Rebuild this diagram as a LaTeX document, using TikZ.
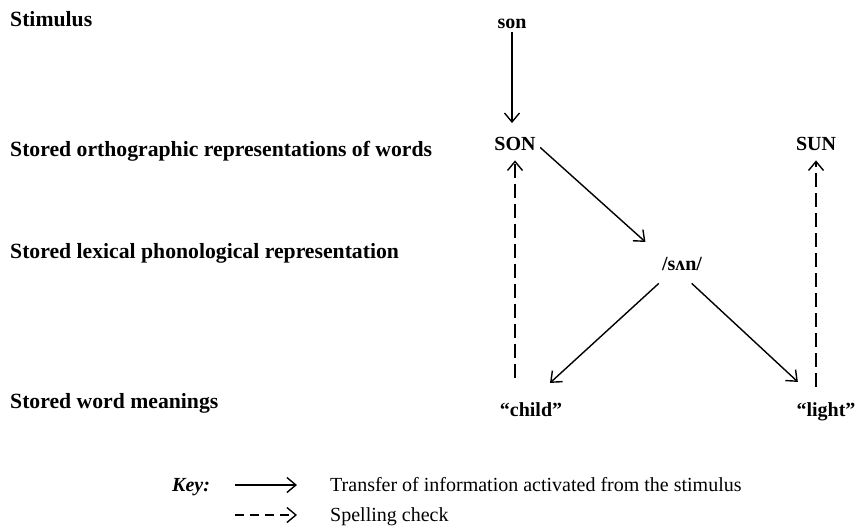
\documentclass[tikz,border=0pt]{standalone}
\usepackage{fontspec}
\setmainfont{Liberation Serif}
\usetikzlibrary{arrows.meta}

\begin{document}
\begin{tikzpicture}
    [x=1pt, y=1pt,
     every node/.style={inner sep=0pt, font=\fontsize{20}{24}\selectfont\bfseries},
     row/.style={anchor=base west, font=\fontsize{21.7}{26}\selectfont\bfseries},
     word/.style={anchor=base},
     keytext/.style={anchor=base west, font=\fontsize{20}{24}\selectfont},
     flow/.style={line width=1.4pt, -{Straight Barb[length=9pt,width=15pt]}},
     check/.style={flow, dash pattern=on 14pt off 6pt}]
        \useasboundingbox (0,0) rectangle (858,-531);
        % levels
        \node (a) [row] at (10, -26) {Stimulus};
        \node (b) [row] at (10, -156) {Stored orthographic representations of words};
        \node (c) [row] at (10, -258) {Stored lexical phonological representation};
        \node (d) [row] at (10, -408) {Stored word meanings};
        % words
        \node (1) [word] at (512, -28) {son};
        \node (2) [word] at (515, -150) {SON};
        \node (3) [word] at (816, -150) {SUN};
        \node (4) [word] at (682, -270) {/sʌn/};
        \node (5) [word] at (531, -416) {“child”};
        \node (6) [word] at (826, -416) {“light”};
        \draw [flow, shorten <=4pt, shorten >=13.5pt] (1.south) -- (1.south |- 2.north);
        \draw [flow, shorten <=6pt, shorten >=22pt] (2.east) -- (4.north west);
        \draw [flow] ([xshift=-3pt, yshift=-13pt]4.south west) -- ([xshift=19pt, yshift=19pt]5.north);
        \draw [flow] ([xshift=-10.5pt, yshift=-13pt]4.south east) -- ([xshift=1.5pt, yshift=20pt]6.north west);
        \draw [check, shorten <=24pt, shorten >=10pt] (5.north -| 2.south) -- (2.south);
        \draw [check, shorten <=15pt, shorten >=10pt] (6.north -| 3.south) -- (3.south);
        % key
        \node (7) [row, font=\fontsize{20}{24}\selectfont\bfseries\itshape] at (172, -491) {Key:};
        \coordinate (8) at (235, -485);
        \coordinate (9) at (297, -485);
        \node (10) [keytext] at (330, -491) {Transfer of information activated from the stimulus};
        \coordinate (11) at (235, -515);
        \coordinate (12) at (297, -515);
        \node (13) [keytext] at (330, -521) {Spelling check};
        \draw [flow] (8) -- (9);
        \draw [flow, dash pattern=on 9pt off 6pt] (11) -- (12);
    \end{tikzpicture}
\end{document}
